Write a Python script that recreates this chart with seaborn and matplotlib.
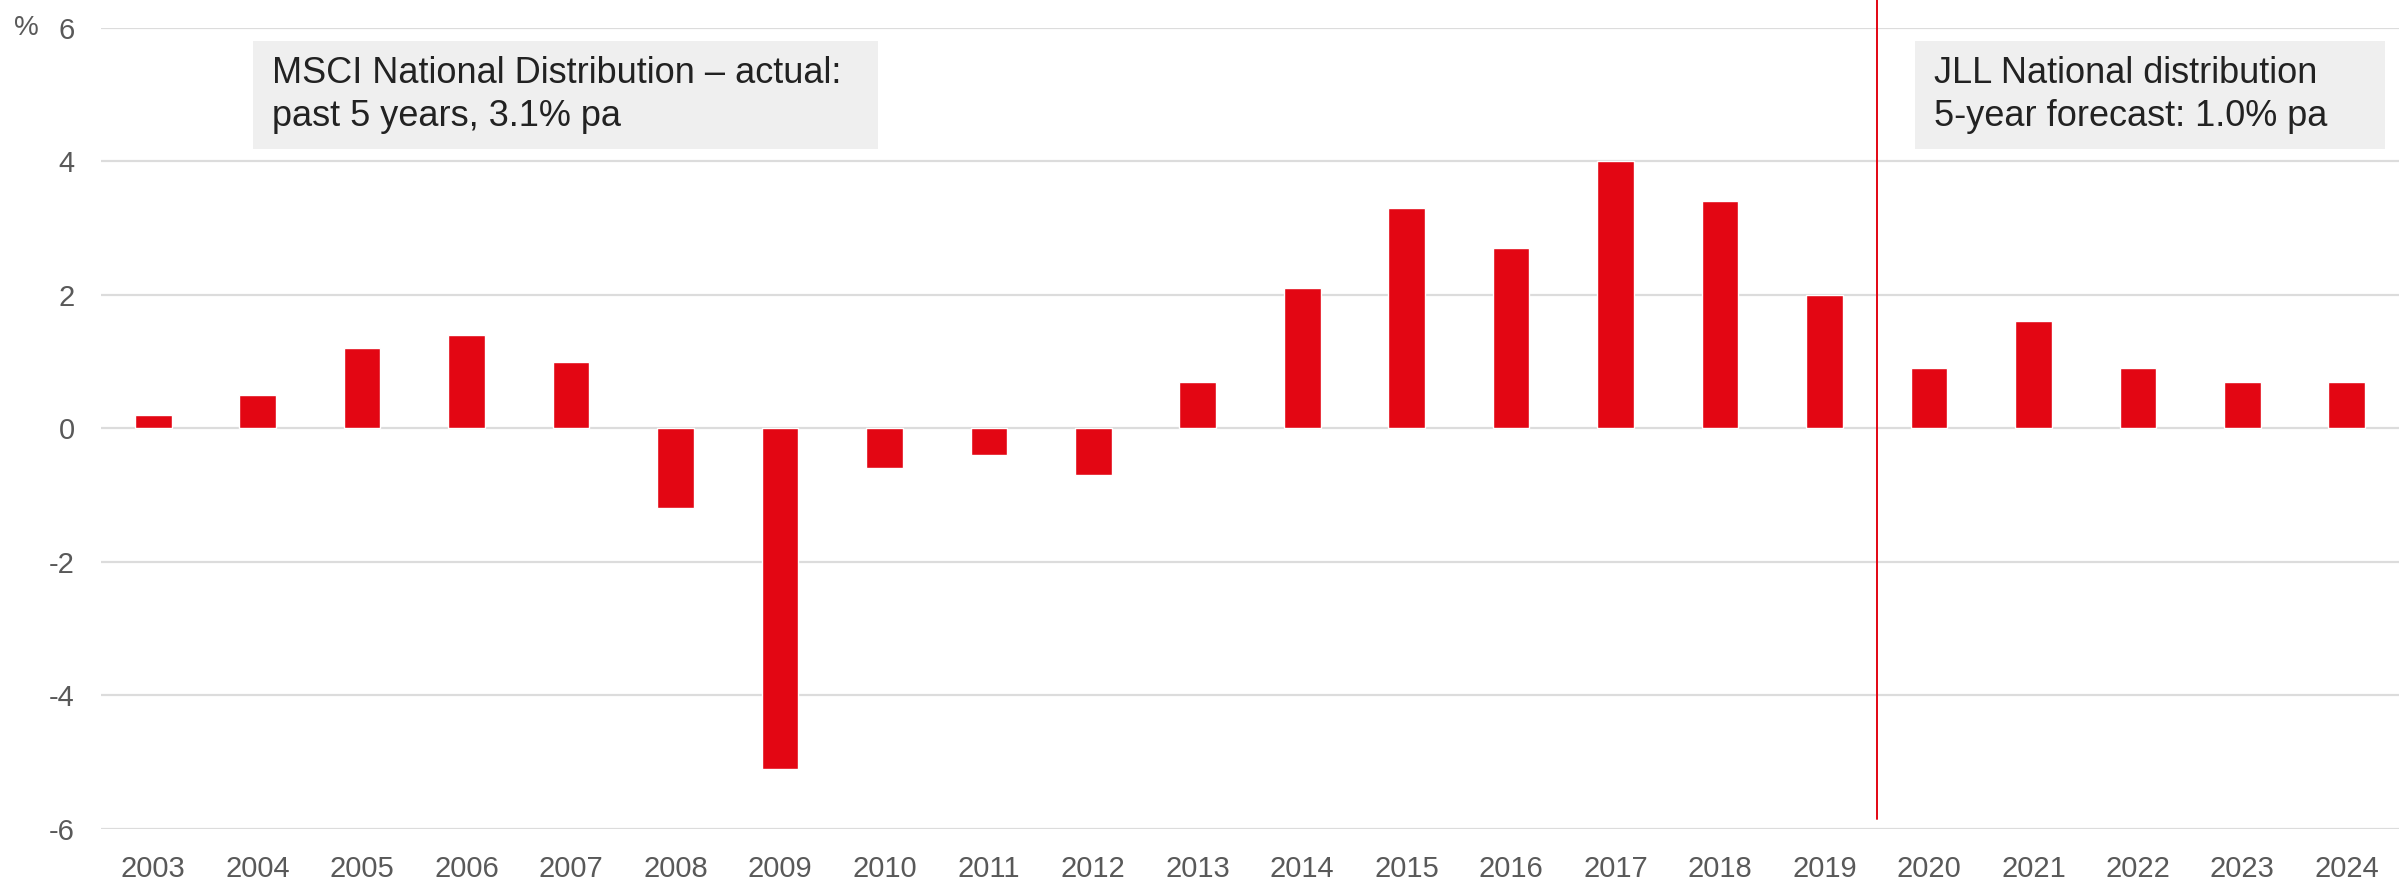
import matplotlib
matplotlib.use("Agg")
import matplotlib.pyplot as plt
from matplotlib.patches import Rectangle
import seaborn as sns
import pandas as pd

years = ["2003", "2004", "2005", "2006", "2007", "2008", "2009", "2010", "2011", "2012", "2013",
         "2014", "2015", "2016", "2017", "2018", "2019", "2020", "2021", "2022", "2023", "2024"]
growth = [0.2, 0.5, 1.2, 1.4, 1.0, -1.2, -5.1, -0.6, -0.4, -0.7, 0.7,
          2.1, 3.3, 2.7, 4.0, 3.4, 2.0, 0.9, 1.6, 0.9, 0.7, 0.7]
y_ticks = [-6, -4, -2, 0, 2, 4, 6]
actual_note = "MSCI National Distribution – actual:\npast 5 years, 3.1% pa"
forecast_note = "JLL National distribution\n5-year forecast: 1.0% pa"

df = pd.DataFrame({"year": years, "growth": growth})

sns.set_theme(style="white")
plt.rcParams["font.family"] = ["Liberation Sans", "DejaVu Sans"]

RED = "#e30613"
GREY_TXT = "#595959"
GRID = "#dcdcdc"
W, H = 2408, 886

fig = plt.figure(figsize=(W / 100, H / 100), dpi=100)
ax = fig.add_axes([101 / W, 1 - 829 / H, (2399 - 101) / W, (829 - 27.6) / H])

sns.barplot(data=df, x="year", y="growth", color=RED, width=0.35,
            saturation=1, ax=ax, zorder=3)

ax.set_ylim(-6, 6)
ax.set_xlim(-0.5, len(years) - 0.5)
ax.set_yticks(y_ticks)
ax.set_yticklabels([str(t) for t in y_ticks])
ax.yaxis.grid(True, color=GRID, linewidth=1.6)
ax.set_axisbelow(True)
for s in ax.spines.values():
    s.set_visible(False)
ax.set_xlabel("")
ax.set_ylabel("")
ax.tick_params(axis="both", length=0, labelsize=21, labelcolor=GREY_TXT)
ax.tick_params(axis="y", pad=19)
ax.tick_params(axis="x", pad=19)

# unit marker beside the top tick
fig.text(14 / W, 1 - 27.6 / H, "%", fontsize=20, color=GREY_TXT,
         ha="left", va="center")

# divider between actual and forecast years
split = years.index("2020") - 0.5
ax.plot([split, split], [-5.85, 6.7], color=RED, linewidth=1.4,
        clip_on=False, zorder=4)


def note(x0, x1, text):
    """Grey annotation panel in pixel coordinates with left-aligned text."""
    y0, y1 = 41, 149
    fig.patches.append(Rectangle((x0 / W, 1 - y1 / H), (x1 - x0) / W, (y1 - y0) / H,
                                 transform=fig.transFigure, fc="#efefef", ec="none",
                                 zorder=5))
    fig.text((x0 + 19) / W, 1 - (y0 + y1) / 2 / H, text, fontsize=26, color="#222222",
             ha="left", va="center", linespacing=1.3, zorder=6)


note(253, 878, actual_note)
note(1915, 2385, forecast_note)

fig.savefig("out.png", dpi=100)
